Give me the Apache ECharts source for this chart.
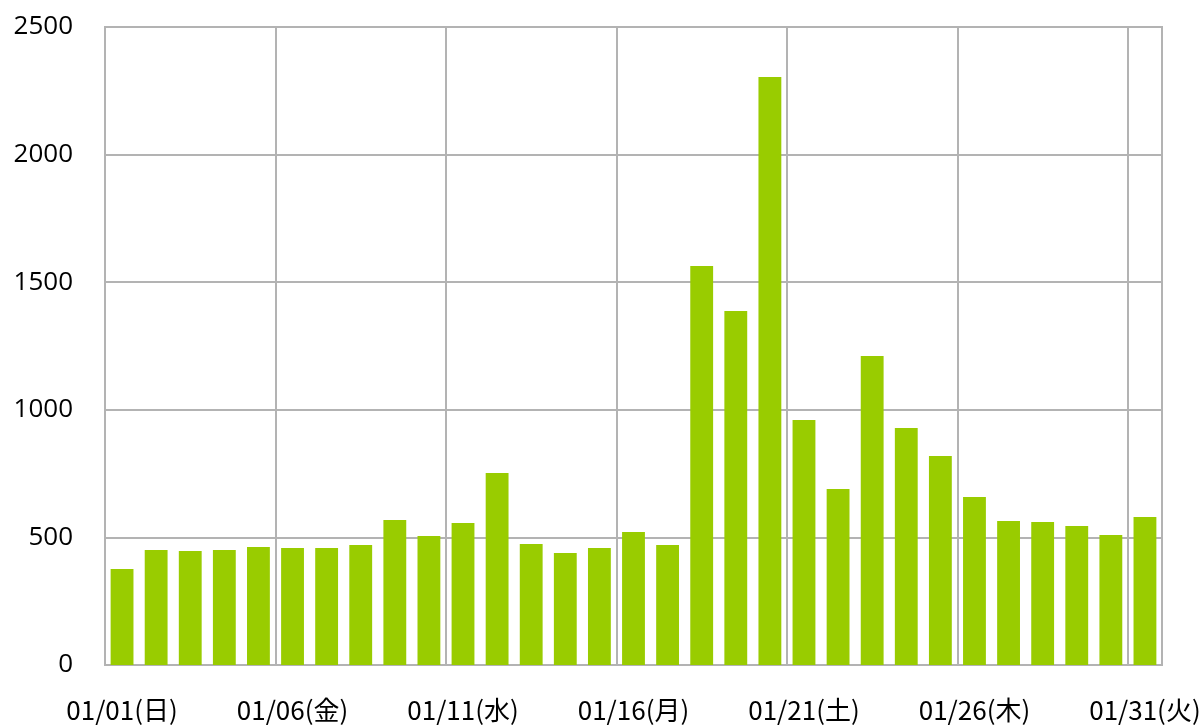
<!DOCTYPE html>
<html>
<head>
<meta charset="utf-8">
<script src="https://cdn.jsdelivr.net/npm/echarts@6/dist/echarts.min.js"></script>
<style>
  html, body { margin: 0; padding: 0; background: #fff; }
  #main { width: 1200px; height: 725px; }
</style>
</head>
<body>
<div id="main"></div>
<script>
// 日付ラベル（2023年1月）
var days = ['01/01(日)','01/02(月)','01/03(火)','01/04(水)','01/05(木)','01/06(金)','01/07(土)',
  '01/08(日)','01/09(月)','01/10(火)','01/11(水)','01/12(木)','01/13(金)','01/14(土)',
  '01/15(日)','01/16(月)','01/17(火)','01/18(水)','01/19(木)','01/20(金)','01/21(土)',
  '01/22(日)','01/23(月)','01/24(火)','01/25(水)','01/26(木)','01/27(金)','01/28(土)',
  '01/29(日)','01/30(月)','01/31(火)'];
var counts = [376, 451, 447, 451, 462, 458, 458, 470, 568, 505, 556, 752, 474, 439, 458, 521,
  470, 1563, 1387, 2304, 960, 690, 1211, 929, 819, 658, 564, 560, 545, 509, 580];
var yTicks = [0, 500, 1000, 1500, 2000, 2500];

var chart = echarts.init(document.getElementById('main'));
var gridColor = '#b3b3b3';
var option = {
  animation: false,
  grid: {
    left: 105, right: 38, top: 27, bottom: 60,
    outerBoundsMode: 'none',
    containLabel: false,
    show: true, borderColor: gridColor, borderWidth: 2
  },
  xAxis: {
    type: 'category',
    data: days,
    axisLine: { lineStyle: { color: gridColor, width: 2 } },
    axisTick: { show: false },
    axisLabel: {
      interval: 4,
      margin: 32,
      color: '#000',
      fontSize: 26,
      hideOverlap: false,
      fontFamily: '"Liberation Sans Narrow", "Noto Sans CJK JP", sans-serif'
    },
    splitLine: { show: true, interval: 4, lineStyle: { color: gridColor, width: 2 } }
  },
  yAxis: {
    type: 'value',
    min: yTicks[0],
    max: yTicks[yTicks.length - 1],
    interval: 500,
    axisLine: { show: true, lineStyle: { color: gridColor, width: 2 } },
    axisTick: { show: false },
    axisLabel: {
      margin: 32,
      color: '#000',
      fontSize: 26,
      fontFamily: '"Open Sans", "Noto Sans", sans-serif',
      formatter: function (v) { return String(v); }
    },
    splitLine: { lineStyle: { color: gridColor, width: 2 } }
  },
  series: [{
    type: 'bar',
    data: counts,
    barCategoryGap: '33%',
    itemStyle: { color: '#99cc00' }
  }]
};
chart.setOption(option);
</script>
</body>
</html>
